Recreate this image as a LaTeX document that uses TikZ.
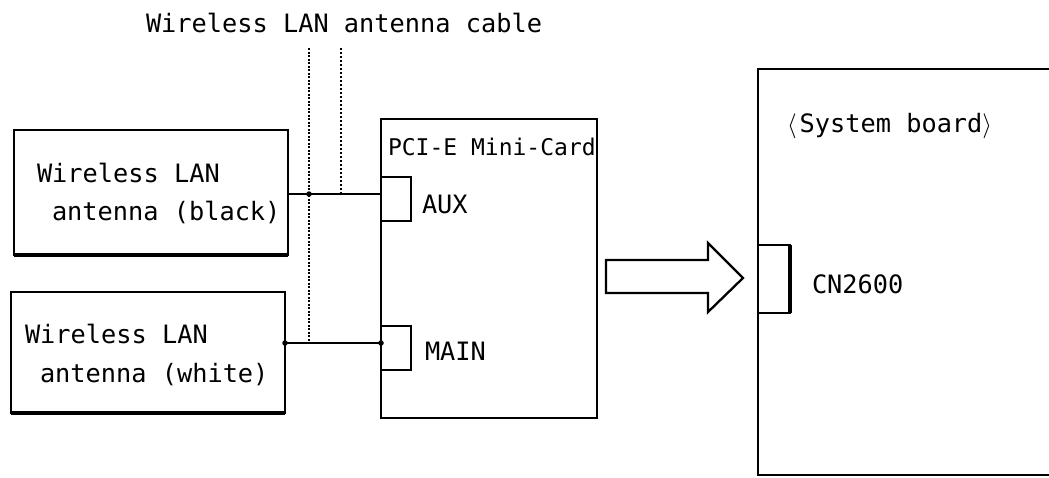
\documentclass[tikz,border=0pt]{standalone}
\usepackage{fontspec}
\setmainfont{DejaVu Sans Mono}
\begin{document}
\begin{tikzpicture}[x=1pt,y=-1pt,
  box/.style={draw, line width=2.3pt, inner sep=0pt, outer sep=0pt, anchor=north west},
  lbl/.style={anchor=base west, inner sep=0pt, outer sep=0pt, font=\fontsize{25.3}{25}\selectfont},
  small/.style={lbl, font=\fontsize{23}{23}\selectfont},
  wire/.style={line width=1.8pt},
  cableA/.style={line width=2.6pt, dash pattern=on 2pt off 1.5pt},
  cableB/.style={line width=1.9pt, dash pattern=on 2pt off 2pt},
  joint/.style={circle, fill, inner sep=0pt, minimum size=5.5pt},
  bigarrow/.style={draw, line width=2.3pt, line join=miter}]
\useasboundingbox (0,0) rectangle (1049,477);
\clip (0,0) rectangle (1049,477);

% title
\node[lbl] (title) at (146,32) {Wireless LAN antenna cable};

% antenna boxes
\node[box, minimum width=274pt, minimum height=125pt] (blk) at (14,130) {};
\draw[line width=3.2pt] (blk.south west) -- (blk.south east);
\node[lbl] (blk1) at (37,182) {Wireless LAN};
\node[lbl] (blk2) at (52,220) {antenna (black)};

\node[box, minimum width=274pt, minimum height=121pt] (wht) at (11,292) {};
\draw[line width=3.2pt] (wht.south west) -- (wht.south east);
\node[lbl] (wht1) at (25,343) {Wireless LAN};
\node[lbl] (wht2) at (40,382) {antenna (white)};

% PCI-E card
\node[box, minimum width=216pt, minimum height=299pt] (pci) at (381,119) {};
\node[small] (pcit) at (388,155) {PCI-E Mini-Card};
\node[box, minimum width=30pt, minimum height=44pt] (aux) at (381,177) {};
\node[lbl] (auxt) at (422,213) {AUX};
\node[box, minimum width=30pt, minimum height=44pt] (main) at (381,326) {};
\node[lbl] (maint) at (425,360) {MAIN};

% system board
\node[box, minimum width=330pt, minimum height=406pt] (sb) at (758,69) {};
\node[lbl] (sbt) at (787,132) {$\langle$\hspace{3pt}System board$\rangle$};
\node[box, minimum width=32pt, minimum height=68pt] (cn) at (758,245) {};
\draw[line width=3.2pt] (cn.north east) -- (cn.south east);
\node[lbl] (cnt) at (812,293) {CN2600};

% cables
\coordinate (auxin) at (aux.west |- 0,194);
\coordinate (mainin) at (main.west |- 0,343);
\coordinate (c1top) at (309,48);
\coordinate (c2top) at (341,48);
\draw[wire] (blk.east |- auxin) -- (auxin);
\draw[wire] (wht.east |- mainin) -- (mainin);
\draw[cableA] (c1top) -- (c1top |- mainin);
\draw[cableB] (c2top) -- (c2top |- auxin);
\node[joint] (j1) at (c1top |- auxin) {};
\node[joint] (j2) at (wht.east |- mainin) {};
\node[joint] (j3) at (mainin) {};

% big arrow
\coordinate (arr) at (606,260);
\draw[bigarrow] (arr) -- ++(102,0) -- ++(0,-17) -- ++(35,35) -- ++(-35,34) -- ++(0,-19) -- ++(-102,0) -- cycle;
\end{tikzpicture}
\end{document}
